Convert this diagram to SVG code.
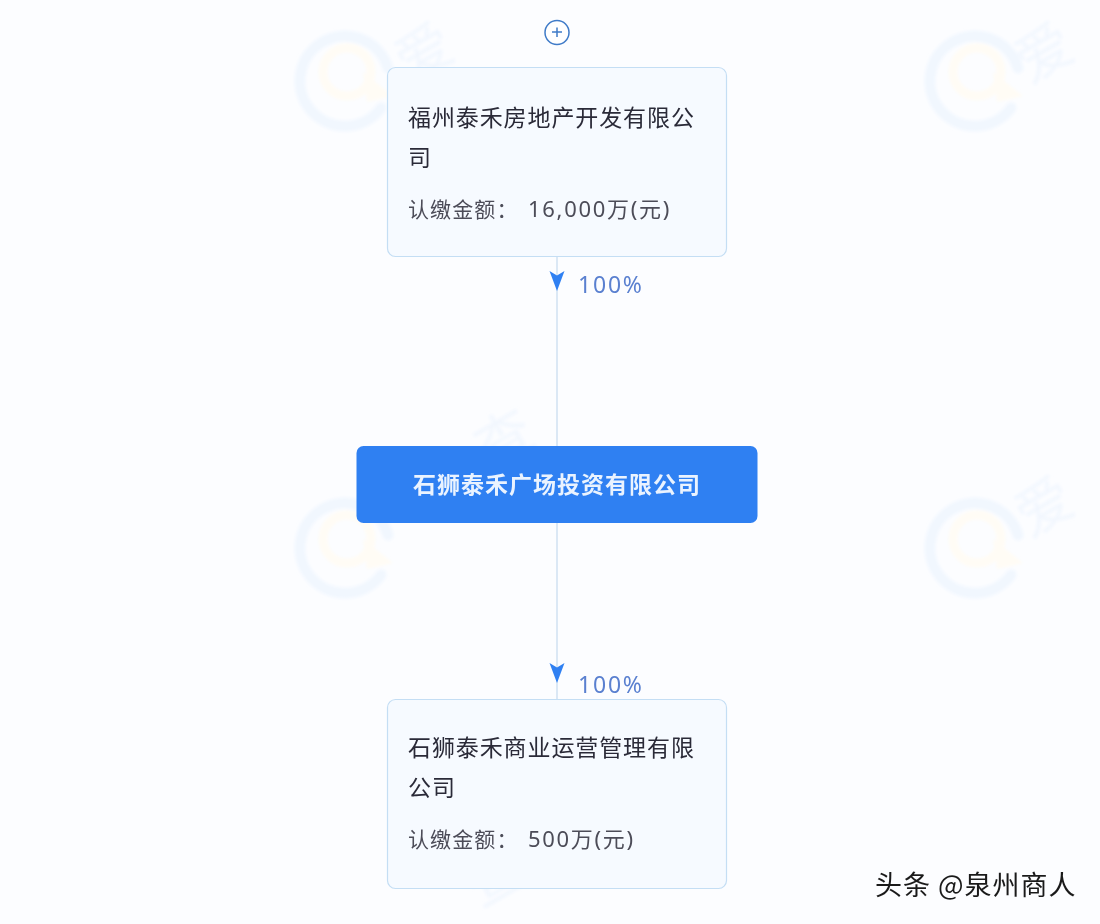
<svg xmlns="http://www.w3.org/2000/svg" width="1100" height="924" viewBox="0 0 1100 924">
<style>
text{font-family:"Liberation Sans","Noto Sans CJK SC",sans-serif}
.cn{font-family:"Noto Sans CJK SC",sans-serif}
.card{fill:#f6faff;stroke:#c4def4;stroke-width:1.2}
.name{font-size:23px;fill:#2a2a38;letter-spacing:.9px}
.sub{font-size:21px;fill:#4c4c58;letter-spacing:1.1px}
.amt{font-size:22px;fill:#4c4c58;letter-spacing:1.7px;font-family:"Noto Sans","Noto Sans CJK SC",sans-serif}
.pct{font-size:23px;fill:#5a80d0;letter-spacing:1.8px;font-family:"Noto Sans","Liberation Sans",sans-serif}
.wire{stroke:#d0e0f2;stroke-width:1.5;fill:none}
.wm-ring{fill:none;stroke:#f1f7fe;stroke-width:11;stroke-linecap:round}
.wm-core{fill:none;stroke:#fffcf5;stroke-width:9}
.wm-text{font-size:56px;fill:#f2f7fe;font-family:"Noto Sans CJK SC",sans-serif}
</style>
<defs>
<filter id="soft" x="-5%" y="-5%" width="110%" height="110%"><feGaussianBlur stdDeviation="1.5"/></filter>
<g id="wm">
<path class="wm-ring" d="M91 68A45 45 0 1 0 84 108"/>
<circle class="wm-core" cx="50" cy="72" r="24"/>
<path d="M66 72L96 96L70 102Z" fill="#fffcf5"/>
</g>
</defs>
<rect width="1100" height="924" fill="#fcfdff"/>
<g id="watermarks" filter="url(#soft)">
<use href="#wm" x="297"/>
<use href="#wm" x="927"/>
<use href="#wm" x="297" y="467"/>
<use href="#wm" x="927" y="467"/>
<text class="wm-text" transform="translate(410 84) rotate(-30)">爱</text>
<text class="wm-text" transform="translate(1030 84) rotate(-30)">爱</text>
<text class="wm-text" transform="translate(1030 538) rotate(-30)">爱</text>
<text class="wm-text" transform="translate(490 470) rotate(-30)">查</text>
<text class="wm-text" transform="translate(480 908) rotate(-30)">查</text>
</g>
<g id="connectors">
<line class="wire" x1="557" y1="257" x2="557" y2="446"/>
<line class="wire" x1="557" y1="523" x2="557" y2="699"/>
<path d="M549.500 271L557 275.500L564.500 271L557 291Z" fill="#2f80f2"/>
<path d="M549.500 663L557 667.500L564.500 663L557 683Z" fill="#2f80f2"/>
<text class="pct" x="578" y="293">100%</text>
<text class="pct" x="578" y="693">100%</text>
</g>
<g id="expand">
<circle cx="557" cy="32.500" r="12" fill="#fff" stroke="#3f7bc8" stroke-width="1.500"/>
<path d="M552 32H562M557 27.500V37" stroke="#3f7bc8" stroke-width="1.500" fill="none"/>
</g>
<g id="node-top">
<rect class="card" x="387.500" y="67.500" width="339" height="189" rx="8"/>
<text class="name cn" x="408" y="126">福州泰禾房地产开发有限公</text>
<text class="name cn" x="408" y="166">司</text>
<text class="sub cn" x="408" y="217">认缴金额：</text>
<text class="amt" x="528" y="217">16,000万(元)</text>
</g>
<g id="node-center">
<rect x="356.500" y="446" width="401" height="77" rx="7" fill="#2f80f2"/>
<text class="cn" x="557" y="493" text-anchor="middle" font-size="23" font-weight="700" fill="#eaf3ff" letter-spacing="1">石狮泰禾广场投资有限公司</text>
</g>
<g id="node-bottom">
<rect class="card" x="387.500" y="699.500" width="339" height="189" rx="8"/>
<text class="name cn" x="408" y="756">石狮泰禾商业运营管理有限</text>
<text class="name cn" x="408" y="796">公司</text>
<text class="sub cn" x="408" y="847">认缴金额：</text>
<text class="amt" x="528" y="847">500万(元)</text>
</g>
<text id="credit" class="cn" x="875" y="895" font-size="27" fill="#1a1a1a" letter-spacing="1">头条 @泉州商人</text>
</svg>
